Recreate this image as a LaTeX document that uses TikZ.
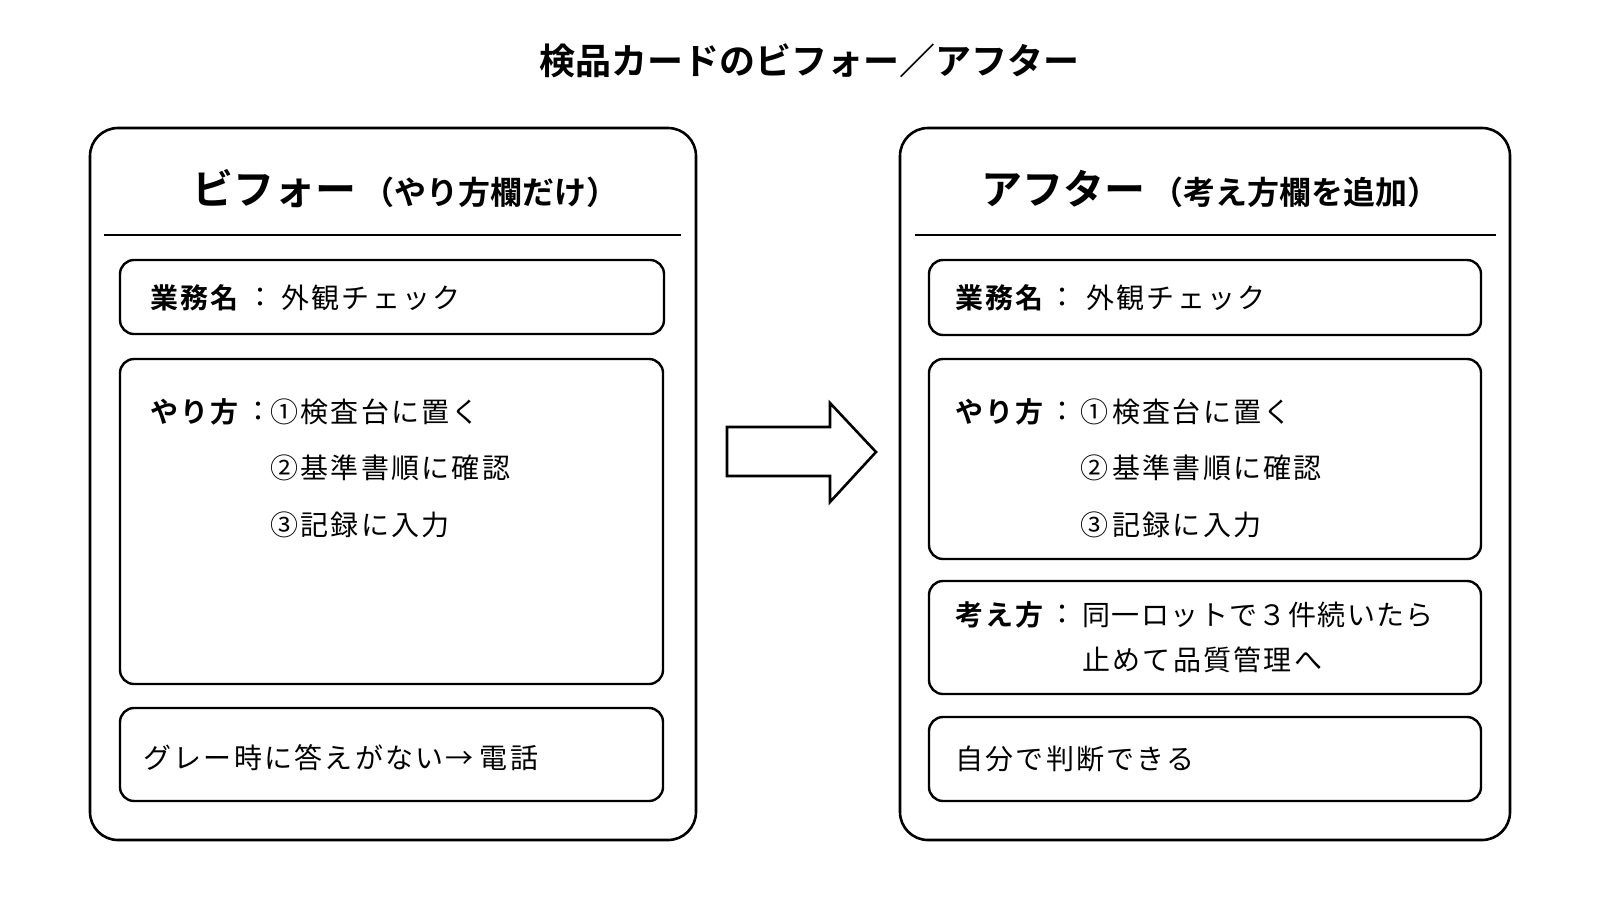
\documentclass[tikz,border=0pt]{standalone}
\usepackage{fontspec}
\setmainfont{Noto Sans CJK JP}[BoldFont={Noto Sans CJK JP Bold}]
\newcommand\bodyfont{\fontsize{14pt}{17pt}\selectfont\addfontfeature{LetterSpace=8}}
\begin{document}
\begin{tikzpicture}[x=0.5pt,y=-0.5pt,
  card/.style={draw=black, line width=1.3pt, rounded corners=14pt},
  box/.style={draw=black, line width=1.2pt, rounded corners=7pt},
  rule/.style={draw=black, line width=1.2pt},
  txt/.style={anchor=west, inner sep=0pt, font=\bodyfont, text=black},
  head/.style={inner sep=0pt, text=black},
  blockarrow/.style={draw=black, line width=1.3pt, fill=white, line join=miter}]
\fill[white] (0,0) rectangle (1600,900);
\useasboundingbox (0,0) rectangle (1600,900);

% title
\node[head, font={\fontsize{18pt}{22pt}\selectfont\bfseries}] (title) at (809,61) {検品カードのビフォー／アフター};

% left card
\draw[card] (90,128) rectangle (696,840);
\node[head] (lhead) at (405,189) {{\fontsize{20.5pt}{24pt}\selectfont\bfseries ビフォー}\hspace{3pt}{\fontsize{16pt}{20pt}\selectfont\bfseries（やり方欄だけ）}};
\draw[rule] (104,235) -- (681,235);
\draw[box] (120,260) rectangle (664,334);
\node[txt] (l1a) at (150,298) {\bfseries 業務名};
\node[txt] (l1b) at (246,298) {：};
\node[txt] (l1c) at (281,298) {外観チェック};
\draw[box] (120,359) rectangle (663,684);
\node[txt] (l2a) at (150,412) {\bfseries やり方};
\node[txt] (l2b) at (244,412) {：};
\node[txt] (l2c) at (270,412) {①検査台に置く};
\node[txt] (l2d) at (270,468) {②基準書順に確認};
\node[txt] (l2e) at (270,525) {③記録に入力};
\draw[box] (120,708) rectangle (663,801);
\node[txt] (l3a) at (143,758) {グレー時に答えがない→\hspace{3pt}電話};

% arrow
\draw[blockarrow] (727,427) -- (830,427) -- (830,403) -- (876,452) -- (830,502) -- (830,476) -- (727,476) -- cycle;

% right card
\draw[card] (900,128) rectangle (1510,840);
\node[head] (rhead) at (1210,189) {{\fontsize{20.5pt}{24pt}\selectfont\bfseries アフター}\hspace{3pt}{\fontsize{16pt}{20pt}\selectfont\bfseries（考え方欄を追加）}};
\draw[rule] (915,235) -- (1496,235);
\draw[box] (929,260) rectangle (1481,335);
\node[txt] (r1a) at (955,298) {\bfseries 業務名};
\node[txt] (r1b) at (1048,298) {：};
\node[txt] (r1c) at (1086,298) {外観チェック};
\draw[box] (929,359) rectangle (1481,559);
\node[txt] (r2a) at (955,412) {\bfseries やり方};
\node[txt] (r2b) at (1048,412) {：};
\node[txt] (r2c) at (1080,412) {①\hspace{2pt}検査台に置く};
\node[txt] (r2d) at (1080,468) {②\hspace{2pt}基準書順に確認};
\node[txt] (r2e) at (1080,525) {③\hspace{2pt}記録に入力};
\draw[box] (929,581) rectangle (1481,694);
\node[txt] (r3a) at (955,615) {\bfseries 考え方};
\node[txt] (r3b) at (1048,615) {：};
\node[txt, font={\fontsize{14pt}{17pt}\selectfont\addfontfeature{LetterSpace=5}}] (r3c) at (1082,615) {同一ロットで３件続いたら};
\node[txt] (r3d) at (1082,660) {止めて品質管理へ};
\draw[box] (929,717) rectangle (1481,801);
\node[txt] (r4a) at (955,759) {自分で判断できる};
\end{tikzpicture}
\end{document}
